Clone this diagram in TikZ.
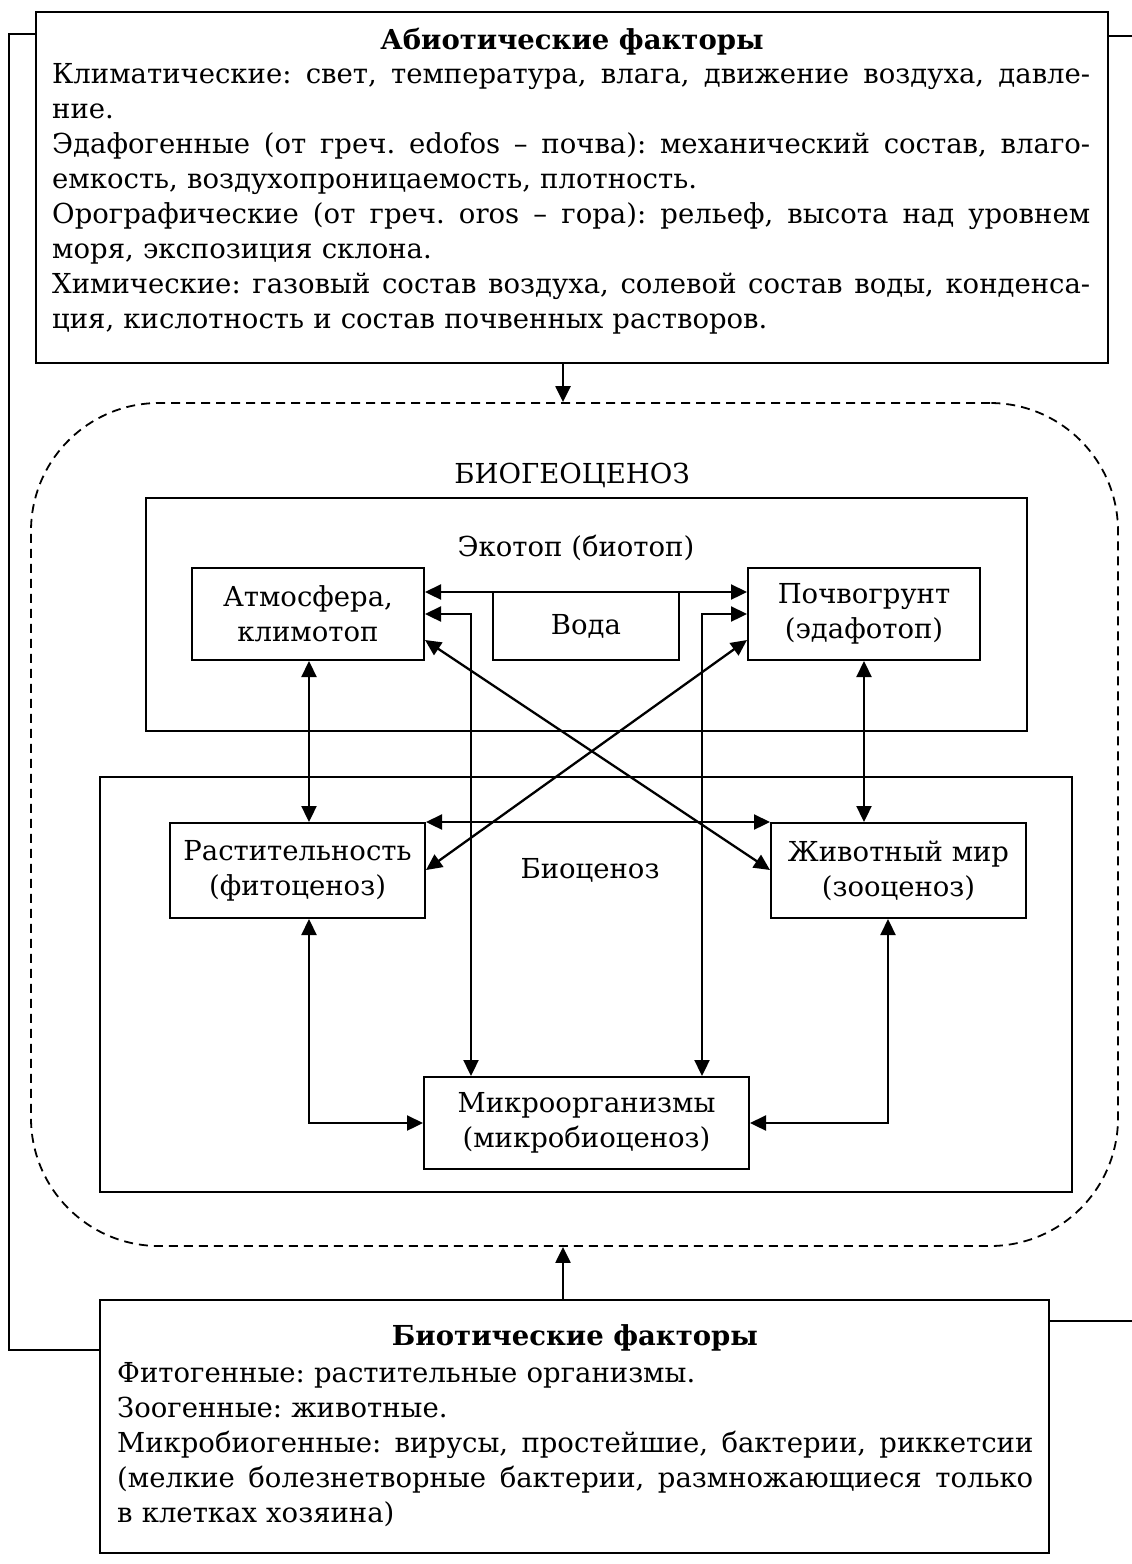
\documentclass[tikz,border=0pt]{standalone}
\usepackage{fontspec}
\setmainfont{DejaVu Serif}
\usetikzlibrary{arrows.meta}
\newcommand\txtfont{\fontsize{27.5}{35}\selectfont\frenchspacing}
\newcommand\jline[2]{\makebox[#1][s]{\spaceskip=0pt\xspaceskip=0pt #2}}
\tikzset{
  frame/.style={draw, line width=2pt, inner sep=0pt},
  dbox/.style={draw, line width=2pt, inner sep=0pt, align=center, font=\txtfont, fill=white},
  lbl/.style={inner sep=0pt, font=\txtfont},
  darr/.style={line width=2.3pt, {Triangle[length=16pt,width=15pt]}-{Triangle[length=16pt,width=15pt]}},
  sarr/.style={line width=2.3pt, -{Triangle[length=16pt,width=15pt]}},
  wire/.style={line width=2pt}
}
\begin{document}
\begin{tikzpicture}[x=1pt,y=-1pt]
\useasboundingbox (0,0) rectangle (1132,1564);
\fill[white] (0,0) rectangle (1132,1564);

% abiotic factors box
\node[frame, minimum width=1072pt, minimum height=351pt] (abio) at (572,187.5) {};
\node[lbl, font=\txtfont\bfseries, anchor=base] (abiotitle) at (572,49) {Абиотические факторы};
\node[lbl, anchor=north west, text width=1038pt, align=left] (abiotext) at (52,58.5) {\strut\jline{1038pt}{Климатические: свет, температура, влага, движение воздуха, давле-}\\
ние.\\
\jline{1038pt}{Эдафогенные (от греч. edofos – почва): механический состав, влаго-}\\
емкость, воздухопроницаемость, плотность.\\
\jline{1038pt}{Орографические (от греч. oros – гора): рельеф, высота над уровнем}\\
моря, экспозиция склона.\\
\jline{1038pt}{Химические: газовый состав воздуха, солевой состав воды, конденса-}\\
ция, кислотность и состав почвенных растворов.};

% biotic factors box
\node[frame, minimum width=949pt, minimum height=253pt] (biot) at (574.5,1426.5) {};
\node[lbl, font=\txtfont\bfseries, anchor=base] (biottitle) at (575,1345) {Биотические факторы};
\node[lbl, anchor=north west, text width=916pt, align=left] (biottext) at (117,1357.5) {\strut Фитогенные: растительные организмы.\\
Зоогенные: животные.\\
\jline{916pt}{Микробиогенные: вирусы, простейшие, бактерии, риккетсии}\\
\jline{916pt}{(мелкие болезнетворные бактерии, размножающиеся только}\\
в клетках хозяина)};

% biogeocenosis (dashed)
\node[draw, line width=1.8pt, dash pattern=on 9pt off 6pt, rounded corners=128pt, minimum width=1087pt, minimum height=843pt, inner sep=0pt] (bgc) at (574.5,824.5) {};
\node[lbl, anchor=base] (bgclbl) at (572,483) {БИОГЕОЦЕНОЗ};

% ecotope
\node[frame, minimum width=881pt, minimum height=233pt] (eco) at (586.5,614.5) {};
\node[lbl, anchor=base] (ecolbl) at (576,556) {Экотоп (биотоп)};
\node[dbox, minimum width=232pt, minimum height=92pt] (atmo) at (308,614) {Атмосфера,\\климотоп};
\node[dbox, minimum width=186pt, minimum height=68pt] (voda) at (586,626) {Вода};
\node[dbox, minimum width=232pt, minimum height=92pt] (pochvo) at (864,614) {Почвогрунт\\(эдафотоп)};

% biocenosis
\node[frame, minimum width=972pt, minimum height=415pt] (bcz) at (586,984.5) {};
\node[lbl] (bczlbl) at (590,870) {Биоценоз};
\node[dbox, minimum width=255pt, minimum height=95pt] (rast) at (297.5,870.5) {Растительность\\(фитоценоз)};
\node[dbox, minimum width=255pt, minimum height=95pt] (zhiv) at (898.5,870.5) {Животный мир\\(зооценоз)};
\node[dbox, minimum width=325pt, minimum height=92pt] (micro) at (586.5,1123) {Микроорганизмы\\(микробиоценоз)};

% helper coordinates
\coordinate (xA) at (563,0);
\coordinate (yW) at (0,592);
\coordinate (xM1) at (471,0);
\coordinate (xM2) at (702,0);
\coordinate (yD1) at (0,640);
\coordinate (yD2) at (0,870);
\coordinate (xL) at (309,0);
\coordinate (xR) at (888,0);
\coordinate (L1) at (9,34);
\coordinate (L2) at (9,1350);
\coordinate (R1) at (1132,36);
\coordinate (R2) at (1132,1321);

% outer connectors
\draw[wire] (abio.west |- L1) -- (L1) -- (L2) -- (biot.west |- L2);
\draw[wire] (abio.east |- R1) -- (R1);
\draw[wire] (biot.east |- R2) -- (R2);
\draw[sarr] (abio.south -| xA) -- (bgc.north -| xA);
\draw[sarr] (biot.north -| xA) -- (bgc.south -| xA);

% inner connectors
\draw[darr] (atmo.east |- yW) -- (pochvo.west |- yW);
\draw[darr] (atmo.east) -| (micro.north -| xM1);
\draw[darr] (pochvo.west) -| (micro.north -| xM2);
\draw[darr] (atmo.east |- yD1) -- (zhiv.west |- yD2);
\draw[darr] (pochvo.west |- yD1) -- (rast.east |- yD2);
\draw[darr] (atmo.south -| xL) -- (rast.north -| xL);
\draw[darr] (pochvo.south) -- (zhiv.north -| pochvo.south);
\draw[darr] (rast.north east) -- (zhiv.north west);
\draw[darr] (rast.south -| xL) |- (micro.west);
\draw[darr] (zhiv.south -| xR) |- (micro.east);
\end{tikzpicture}
\end{document}
